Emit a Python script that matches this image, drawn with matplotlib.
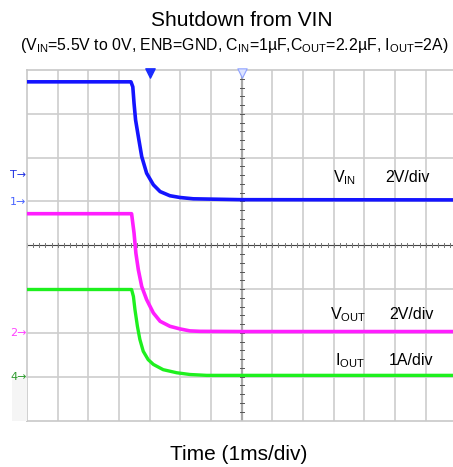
import numpy as np
import matplotlib
matplotlib.use("Agg")
import matplotlib.pyplot as plt
from matplotlib.patches import Rectangle

plt.rcParams["font.family"] = ["Liberation Sans", "DejaVu Sans"]
plt.rcParams["mathtext.fontset"] = "custom"
plt.rcParams["mathtext.rm"] = "Liberation Sans"
plt.rcParams["mathtext.it"] = "Liberation Sans:italic"
plt.rcParams["mathtext.bf"] = "Liberation Sans:bold"

# time axis in ms (1 ms/div), 0 = screen centre
t_vin = [-7.0, -3.61, -3.55, -3.51, -3.46, -3.37, -3.26, -3.10, -2.88,
         -2.66, -2.34, -2.01, -1.58, 0.0, 6.9]
vin = [5.46, 5.46, 5.23, 4.48, 3.72, 2.96, 2.05, 1.29, 0.76,
       0.45, 0.26, 0.18, 0.12, 0.08, 0.07]

t_vout = [-7.0, -3.59, -3.51, -3.45, -3.37, -3.26, -3.10, -2.88, -2.66,
          -2.34, -2.01, -1.69, -1.36, 0.0, 6.9]
vout = [5.44, 5.44, 4.56, 3.64, 2.88, 2.12, 1.52, 0.91, 0.53,
        0.30, 0.18, 0.09, 0.07, 0.06, 0.06]

t_iout = [-7.0, -3.59, -3.53, -3.48, -3.40, -3.32, -3.21, -3.05, -2.88,
          -2.56, -2.12, -1.69, -1.14, 0.0, 6.9]
iout = [1.99, 1.99, 1.83, 1.53, 1.15, 0.85, 0.58, 0.39, 0.28,
        0.16, 0.09, 0.05, 0.03, 0.03, 0.03]

# channel setup: (volts or amps per div, ground offset in div)
ch1 = (2.0, 1.0)
ch2 = (2.0, -2.0)
ch4 = (1.0, -3.0)

W, H = 453, 467


def px(x, y):
    return x / W, 1 - y / H


def to_div(vals, ch):
    return np.asarray(vals) / ch[0] + ch[1]


fig = plt.figure(figsize=(W / 100, H / 100), dpi=100)
ax = fig.add_axes([27 / W, (H - 420.5) / H, (W - 27) / W, (420.5 - 70) / H])
ax.set_xlim(-7, (W - 241.7) / 30.67)
ax.set_ylim(-4, 4)
ax.set_xticks([])
ax.set_yticks([])
for s in ["left", "top", "bottom"]:
    ax.spines[s].set_color("#c8c8c8")
    ax.spines[s].set_linewidth(1.2)
ax.spines["right"].set_visible(False)

grid_c = "#cdcdcd"
for gx in range(-6, 7):
    if gx != 0:
        ax.axvline(gx, color=grid_c, lw=1.2, zorder=1)
for gy in range(-3, 4):
    if gy != 0:
        ax.axhline(gy, color=grid_c, lw=1.2, zorder=1)

# centre crosshair with minor ticks
ax.axhline(0, color="#444444", lw=0.8, zorder=2)
ax.axvline(0, color="#a8a8a8", lw=1.6, zorder=2)
for tx in np.arange(-7, 7.01, 0.2):
    ax.plot([tx, tx], [-0.05, 0.05], color="#777777", lw=0.7, zorder=2)
for ty in np.arange(-4, 4.01, 0.2):
    ax.plot([-0.07, 0.07], [ty, ty], color="#555555", lw=0.7, zorder=2)

ax.plot(t_vin, to_div(vin, ch1), color="#1414ff", lw=2.6, zorder=5,
        solid_joinstyle="round")
ax.plot(t_vout, to_div(vout, ch2), color="#ff1eff", lw=2.6, zorder=4,
        solid_joinstyle="round")
ax.plot(t_iout, to_div(iout, ch4), color="#1ef01e", lw=2.4, zorder=3,
        solid_joinstyle="round")

# trigger / cursor markers on top edge
ax.scatter([-3], [3.93], marker="v", s=45, color="#1a2cff", zorder=6,
           clip_on=False)
ax.scatter([0], [3.93], marker="v", s=45, facecolor="#dde4ff",
           edgecolor="#8fa2ff", lw=0.8, zorder=6, clip_on=False)

# channel labels
lab = dict(fontsize=11.5, ha="left", va="baseline")
fig.text(*px(333, 182.4), r"$\mathrm{V_{IN}}$", **lab)
fig.text(*px(385, 182.4), "2V/div", **lab)
fig.text(*px(330, 319.3), r"$\mathrm{V_{OUT}}$", **lab)
fig.text(*px(389, 319.3), "2V/div", **lab)
fig.text(*px(335, 365), r"$\mathrm{I_{OUT}}$", **lab)
fig.text(*px(389, 365), "1A/div", **lab)

# ground / trigger level markers at left edge
fig.patches.append(Rectangle(px(12, 421), 15 / W, 43 / H, transform=fig.transFigure,
                             facecolor="#f5f5f5", edgecolor="none", zorder=0))
mk = dict(fontsize=8, ha="left", va="center", family="DejaVu Sans")
fig.text(*px(10, 175), "T→", color="#2030e0", **mk)
fig.text(*px(10, 201.7), "1→", color="#4a64ff", **mk)
fig.text(*px(10, 333.3), "2→", color="#ff40ff", **mk)
fig.text(*px(10, 376.5), "4→", color="#2e9a2e", **mk)

fig.text(*px(241.7, 26), "Shutdown from VIN", fontsize=15, ha="center",
         va="baseline")
fig.text(*px(234.5, 50),
         r"($\mathrm{V_{IN}}$=5.5V to 0V, ENB=GND, C$_{\mathrm{IN}}$=1µF,"
         r"C$_{\mathrm{OUT}}$=2.2µF, I$_{\mathrm{OUT}}$=2A)",
         fontsize=11.4, ha="center", va="baseline")
fig.text(*px(239, 460), "Time (1ms/div)", fontsize=15, ha="center",
         va="baseline")

fig.savefig("out.png", dpi=100)
